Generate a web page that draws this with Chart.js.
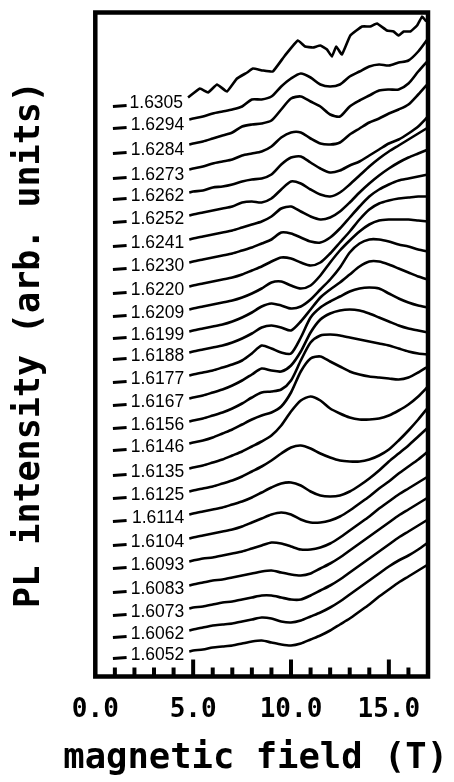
<!DOCTYPE html>
<html>
<head>
<meta charset="utf-8">
<script src="https://cdn.jsdelivr.net/npm/chart.js@4.4.0/dist/chart.umd.min.js"></script>
<style>
html,body{margin:0;padding:0;background:#fff;}
#wrap{width:454px;height:782px;}
</style>
</head>
<body>
<div id="wrap"><canvas id="c" width="454" height="782"></canvas></div>
<script>
// magnetic field sample points (T)
const fieldT = [4.8,5,5.5,6,6.5,7,7.5,8,8.5,9,9.5,10,10.5,11,11.5,12,12.5,13,13.5,14,14.5,15,15.5,16,16.5,17];
// the noisy top trace is sampled more finely
const fieldTop = [4.74,5.35,5.76,6.22,6.73,7.24,7.76,8.05,8.56,9.07,9.69,10.35,10.72,11.12,11.5,11.84,12.09,12.31,12.6,13.03,13.63,14.05,14.39,14.9,15.24,15.5,15.76,16.1,16.44,16.7,16.87,17];
// photon energies (eV), top to bottom
const energies = ['1.6305','1.6294','1.6284','1.6273','1.6262','1.6252','1.6241','1.6230','1.6220','1.6209','1.6199','1.6188','1.6177','1.6167','1.6156','1.6146','1.6135','1.6125','1.6114','1.6104','1.6093','1.6083','1.6073','1.6062','1.6052'];
const xTicks = [0,5,10,15];
// PL intensity (arb. units, vertical offsets included)
const pl_16305 = [579,588,584,592,585,598,604,608,606,605,621,636,630,629,631,627,620,630,622,641,650,650,653,646,645,641,645,645,651,660,656,655];
const pl_16294 = [557,558,560,563,565,567,570,577,577,580,590,598,603,599,592,590,592,600,605,610,612,611,614,616,625,638];
const pl_16284 = [532,533,535,538,541,544,550,552,553,556,567,578,580,575,570,562,560,570,576,581,586,587,587,593,605,616];
const pl_16273 = [507,508,510,513,515,517,521,523,525,530,539,544,544,538,533,532,534,542,548,554,558,563,567,572,582,593];
const pl_16262 = [484,485,486,489,490,492,495,497,498,502,512,519,520,514,508,504,506,511,515,521,527,533,537,543,550,560];
const pl_16252 = [461,462,464,466,468,470,474,475,474,478,487,495,493,487,482,480,484,492,501,510,518,525,531,537,543,549];
const pl_16241 = [437,438,440,442,444,446,449,452,455,460,468,470,465,460,457,459,465,474,484,493,501,508,514,519,523,527];
const pl_16230 = [414,415,417,419,421,423,426,429,433,437,444,443,439,435,434,439,448,459,470,480,487,492,496,498,500,502];
const pl_16220 = [390,391,393,395,397,399,402,406,410,415,419,418,414,411,414,423,434,445,457,467,473,476,478,479,480,480];
const pl_16209 = [367,368,370,372,374,376,379,383,388,394,395,391,388,391,401,414,426,436,445,452,456,457,457,457,456,455];
const pl_16199 = [345,346,348,350,352,355,359,364,370,373,371,368,370,377,387,397,409,424,433,437,437,435,432,430,427,425];
const pl_16188 = [324,325,327,329,331,334,338,343,349,351,349,346,355,367,379,387,394,402,410,415,415,412,408,404,400,397];
const pl_16177 = [301,302,304,306,309,312,316,323,331,328,324,323,339,359,369,375,380,385,388,389,388,383,378,374,371,369];
const pl_16167 = [278,279,281,284,287,291,296,302,308,306,305,311,325,344,357,363,366,367,366,363,359,355,351,348,346,344];
const pl_16156 = [255,256,258,261,264,268,273,279,284,285,287,296,316,334,341,342,341,339,337,335,333,331,328,325,323,322];
const pl_16146 = [233,234,236,239,243,247,252,257,261,264,270,284,305,318,320,315,310,305,302,300,299,298,297,299,304,310];
const pl_16135 = [208,209,211,214,217,221,225,230,235,241,251,265,276,280,276,268,263,259,257,257,258,261,266,272,280,290];
const pl_16125 = [185,186,188,190,193,196,200,205,210,216,223,229,231,228,223,219,216,215,215,217,221,227,236,246,257,269];
const pl_16114 = [162,163,165,167,169,172,175,179,184,189,193,194,191,185,181,180,181,185,191,198,206,215,223,231,240,249];
const pl_16104 = [138,139,141,143,145,147,150,154,158,162,164,162,157,154,154,156,160,166,173,180,188,195,203,210,217,225];
const pl_16093 = [115,116,118,119,121,123,125,128,131,134,133,130,127,127,129,133,139,146,153,160,168,175,182,188,194,200];
const pl_16083 = [91,92,94,96,97,99,101,103,105,106,104,102,101,103,108,113,119,126,133,140,147,154,161,167,173,179];
const pl_16073 = [68,69,70,72,74,75,77,79,81,81,79,77,77,81,86,91,97,104,111,118,125,132,139,145,151,157];
const pl_16062 = [46,47,49,51,52,53,55,57,59,58,55,54,56,60,64,69,75,82,89,96,103,110,116,121,127,134];
const pl_16052 = [25,26,27,29,30,31,33,35,36,34,32,31,33,37,41,46,52,58,65,72,80,87,94,100,106,112];

const series = [pl_16305,pl_16294,pl_16284,pl_16273,pl_16262,pl_16252,pl_16241,pl_16230,pl_16220,pl_16209,pl_16199,pl_16188,pl_16177,pl_16167,pl_16156,pl_16146,pl_16135,pl_16125,pl_16114,pl_16104,pl_16093,pl_16083,pl_16073,pl_16062,pl_16052];

const datasets = series.map((vals, i) => {
  const xs = (i === 0) ? fieldTop : fieldT;
  return {
    label: energies[i],
    data: vals.map((v, j) => ({x: xs[j], y: v})),
    borderColor: '#000',
    borderWidth: 2.6,
    pointRadius: 0,
    tension: i === 0 ? 0.1 : 0.25,
    fill: false
  };
});

const framePlugin = {
  id: 'frame',
  afterDraw(chart) {
    const {ctx, chartArea: a, scales: {x}} = chart;
    ctx.save();
    ctx.strokeStyle = '#000';
    ctx.lineCap = 'butt';
    ctx.lineWidth = 4;
    for (let t = 1; t < 17; t++) {
      const px = x.getPixelForValue(t);
      const len = (t % 5 === 0) ? 17 : 9;
      ctx.beginPath();
      ctx.moveTo(px, a.bottom);
      ctx.lineTo(px, a.bottom - len);
      ctx.stroke();
    }
    ctx.lineWidth = 4.5;
    ctx.strokeRect(a.left, a.top, a.right - a.left, a.bottom - a.top);
    ctx.restore();
  }
};

const curveLabels = {
  id: 'curveLabels',
  afterDatasetsDraw(chart) {
    const {ctx, scales: {x}} = chart;
    ctx.save();
    ctx.fillStyle = '#000';
    ctx.strokeStyle = '#000';
    ctx.font = '17.5px "Liberation Sans", Arial, sans-serif';
    ctx.textAlign = 'right';
    ctx.textBaseline = 'middle';
    const dashA = x.getPixelForValue(0.9);
    const dashB = x.getPixelForValue(1.6);
    chart.data.datasets.forEach((ds, i) => {
      const p = chart.getDatasetMeta(i).data[0];
      const ly = p.y + (i < 4 ? 6 : 4);
      ctx.fillText(ds.label, p.x - 5, ly);
      ctx.lineWidth = 3;
      ctx.beginPath();
      ctx.moveTo(dashA, ly + 3);
      ctx.lineTo(dashB, ly + 2);
      ctx.stroke();
    });
    ctx.restore();
  }
};

Chart.defaults.font.family = '"DejaVu Sans Mono", monospace';
Chart.defaults.color = '#000';

new Chart(document.getElementById('c'), {
  type: 'line',
  data: {datasets},
  options: {
    responsive: false,
    animation: false,
    devicePixelRatio: 1,
    layout: {padding: {left: 0, right: 6, top: 12.5, bottom: 0}},
    plugins: {
      legend: {display: false},
      tooltip: {enabled: false},
      title: {
        display: true,
        position: 'bottom',
        align: 'end',
        text: 'magnetic field (T)',
        color: '#000',
        font: {family: '"DejaVu Sans Mono", monospace', weight: 'bold', size: 35.5, lineHeight: 1.2},
        padding: {top: 0, bottom: 2}
      }
    },
    scales: {
      x: {
        type: 'linear',
        min: 0,
        max: 17,
        afterFit(s) { s.height = 60.9; },
        afterBuildTicks(s) { s.ticks = xTicks.map(v => ({value: v})); },
        ticks: {
          stepSize: 5,
          includeBounds: false,
          padding: 18,
          color: '#000',
          font: {family: '"DejaVu Sans Mono", monospace', weight: 'bold', size: 26},
          callback: v => Number(v).toFixed(1)
        },
        grid: {display: false, drawTicks: false},
        border: {display: false},
        title: {display: false}
      },
      y: {
        type: 'linear',
        min: 0,
        max: 664,
        afterFit(s) { s.width = 95.3; },
        ticks: {display: false},
        grid: {display: false, drawTicks: false},
        border: {display: false},
        title: {
          display: true,
          text: 'PL intensity (arb. units)',
          color: '#000',
          font: {family: '"DejaVu Sans Mono", monospace', weight: 'bold', size: 35},
          padding: {top: 9, bottom: 0}
        }
      },
      yRight: {
        type: 'linear',
        position: 'right',
        afterFit(s) { s.width = 20; },
        ticks: {display: false},
        grid: {display: false, drawTicks: false},
        border: {display: false}
      }
    }
  },
  plugins: [framePlugin, curveLabels]
});
</script>
</body>
</html>
